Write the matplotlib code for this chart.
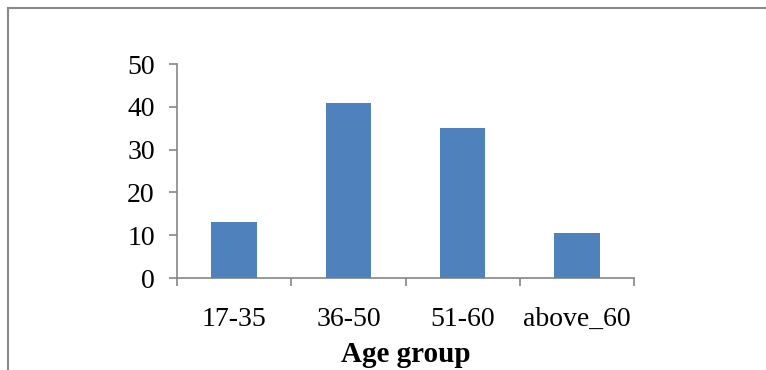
import matplotlib.pyplot as plt
from matplotlib.lines import Line2D

age_groups = ['17-35', '36-50', '51-60', 'above_60']
counts = [13.1, 41, 35, 10.5]
y_ticks = [0, 10, 20, 30, 40, 50]

plt.rcParams['font.family'] = ['Liberation Serif', 'DejaVu Serif']

fig = plt.figure(figsize=(7.66, 3.70), dpi=100)
ax = fig.add_axes([177 / 766, 1 - 278 / 370, (634 - 177) / 766, (278 - 64) / 370])

x = range(len(age_groups))
ax.bar(x, counts, width=0.4, color='#4F81BD', zorder=3)

ax.set_xlim(-0.5, len(age_groups) - 0.5)
ax.set_ylim(0, 50)
ax.set_yticks(y_ticks)
ax.set_xticks(list(x))
ax.set_xticklabels(age_groups)
ax.set_xticks([i + 0.5 for i in range(-1, len(age_groups))], minor=True)

spine_color = '#868686'
for side in ['top', 'right']:
    ax.spines[side].set_visible(False)
for side in ['left', 'bottom']:
    ax.spines[side].set_color(spine_color)
    ax.spines[side].set_linewidth(1.2)

ax.tick_params(axis='y', length=6, width=1.2, color=spine_color, pad=10, labelsize=20)
ax.tick_params(axis='x', which='major', length=0, pad=21, labelsize=20)
ax.tick_params(axis='x', which='minor', length=6, width=1.2, color=spine_color)

ax.set_xlabel('Age group', fontsize=21, fontweight='bold', labelpad=6)

# outer frame (only top and left edges visible in the crop)
frame_color = '#8a8a8a'
fig.add_artist(Line2D([8 / 766, 1], [1 - 8 / 370, 1 - 8 / 370], color=frame_color, linewidth=1.5,
                      transform=fig.transFigure))
fig.add_artist(Line2D([8 / 766, 8 / 766], [0, 1 - 8 / 370], color=frame_color, linewidth=1.5,
                      transform=fig.transFigure))

fig.savefig('out.png', dpi=100)
